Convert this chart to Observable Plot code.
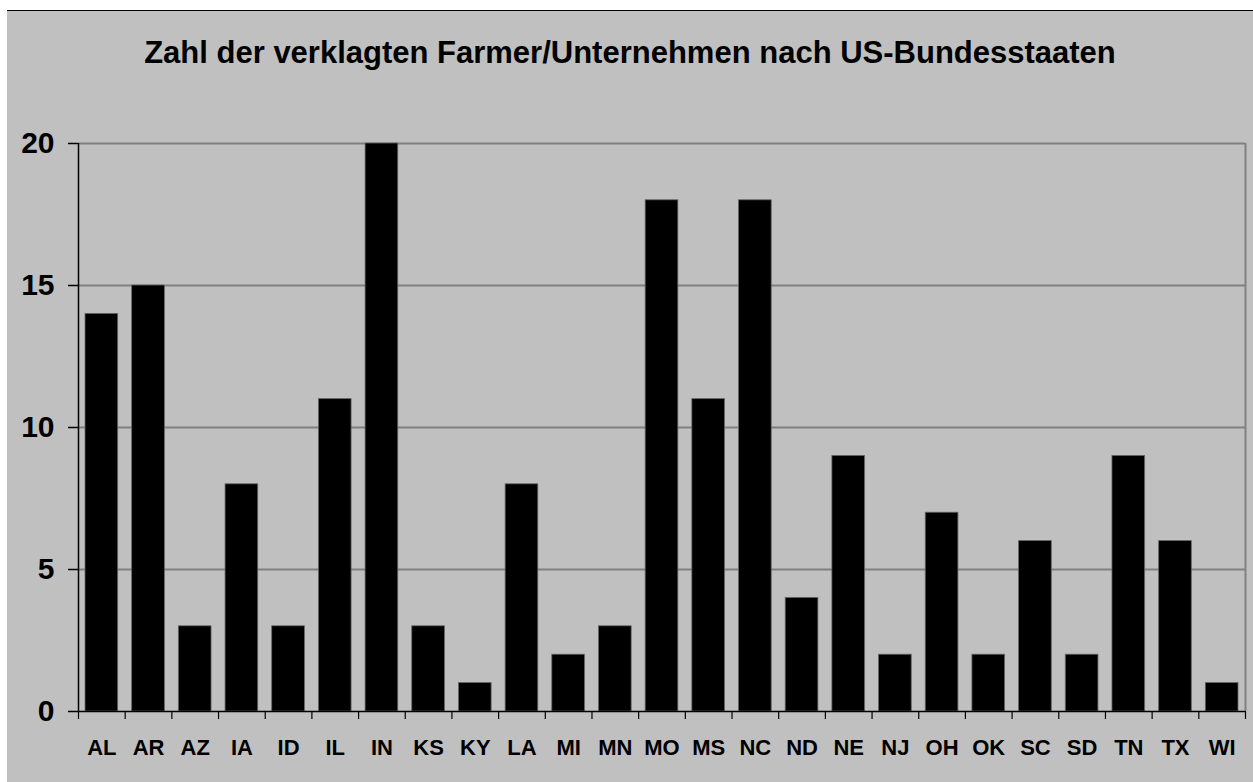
<!DOCTYPE html>
<html>
<head>
<meta charset="utf-8">
<script src="https://cdn.jsdelivr.net/npm/d3@7"></script>
<script src="https://cdn.jsdelivr.net/npm/@observablehq/plot@0.6"></script>
<style>
  html, body { margin: 0; padding: 0; background: #ffffff; }
  #frame {
    position: absolute; left: 7px; top: 10px; width: 1246px; height: 771px;
    background: #c0c0c0; border-top: 1px solid #000;
    font-family: "Liberation Sans", Arial, sans-serif;
  }
  #title {
    position: absolute; left: 0; top: 26px; width: 100%; text-align: center;
    font-size: 31px; line-height: 31px; font-weight: bold; color: #000;
  }
  #chart { position: absolute; left: 0; top: 89px; }
  #chart svg { max-width: none; }
</style>
</head>
<body>
<div id="frame">
  <div id="title">Zahl der verklagten Farmer/Unternehmen nach US-Bundesstaaten</div>
  <div id="chart"></div>
</div>
<script>
const states = ["AL","AR","AZ","IA","ID","IL","IN","KS","KY","LA","MI","MN","MO","MS","NC","ND","NE","NJ","OH","OK","SC","SD","TN","TX","WI"];
const counts = [14,15,3,8,3,11,20,3,1,8,2,3,18,11,18,4,9,2,7,2,6,2,9,6,1];
const yTicks = [0,5,10,15,20];

const data = states.map((s, i) => ({state: s, count: counts[i]}));

const W = 1246, H = 682;
const mL = 71, mR = 8, mT = 43, mB = 71;
const step = (W - mL - mR) / states.length;

const chart = Plot.plot({
  width: W, height: H,
  marginLeft: mL, marginRight: mR, marginTop: mT, marginBottom: mB,
  style: {background: "transparent", fontFamily: "'Liberation Sans', Arial, sans-serif", color: "#000"},
  x: {domain: states, paddingInner: 0.3, paddingOuter: 0.15, round: false, label: null},
  y: {domain: [0, 20], label: null},
  marks: [
    Plot.gridY(yTicks.filter(d => d > 0), {stroke: "#808080", strokeOpacity: 1, strokeWidth: 2}),
    Plot.barY(data, {x: "state", y: "count", fill: "#000", stroke: "#666", strokeWidth: 0.8}),
    Plot.ruleX([states[states.length - 1]], {y1: 0, y2: 20, dx: step / 2, stroke: "#808080", strokeWidth: 2}),
    Plot.ruleX([states[0]], {y1: 0, y2: 20, dx: -step / 2, stroke: "#000", strokeWidth: 1.5}),
    Plot.ruleY([0], {stroke: "#000", strokeWidth: 1.5}),
    Plot.ruleX(states, {y1: 0, y2: 0, insetBottom: -8, dx: -step / 2, stroke: "#000", strokeWidth: 1.2}),
    Plot.ruleX([states[states.length - 1]], {y1: 0, y2: 0, insetBottom: -8, dx: step / 2, stroke: "#000", strokeWidth: 1.2}),
    Plot.axisY(yTicks, {tickSize: 10, tickPadding: 14, fontSize: 30, fontWeight: "bold", stroke: "#000", strokeWidth: 1.5, label: null}),
    Plot.axisX({tickSize: 0, tickPadding: 28, fontSize: 22, fontWeight: "bold", label: null})
  ]
});
document.getElementById("chart").appendChild(chart);
</script>
</body>
</html>
